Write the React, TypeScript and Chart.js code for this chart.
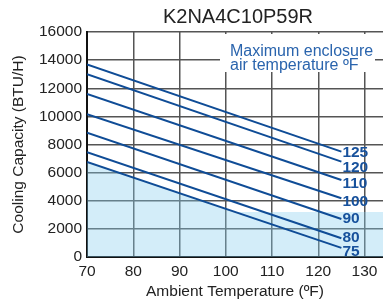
import React, { useEffect, useRef } from 'react';
import { Chart, registerables } from 'chart.js';

Chart.register(...registerables);

const chartTitle = 'K2NA4C10P59R';
const xAxisTitle = 'Ambient Temperature (ºF)';
const yAxisTitle = 'Cooling Capacity (BTU/H)';
const noteLines = ['Maximum enclosure', 'air temperature ºF'];

const seriesLabels = ['125', '120', '110', '100', '90', '80', '75'];
const lineX = [70, 125];
const startValues = [13700, 13000, 11600, 10150, 8840, 7445, 6760];
const endValues = [7490, 6780, 5480, 4180, 2700, 1330, 650];

const shadeX = [70, 102, 134];
const shadeY = [6760, 3200, 3200];

const xTickValues = [70, 80, 90, 100, 110, 120, 130];
const yTickValues = [0, 2000, 4000, 6000, 8000, 10000, 12000, 14000, 16000];

// vertical nudges (px) of the end labels so they don't collide
const labelNudge = [0, 5, 3, 2.5, -1, -1.5, 3];

const FONT = "'Liberation Sans', Arial, Helvetica, sans-serif";
const LINE_COLOR = '#0f4c96';
const LABEL_COLOR = '#17519c';
const NOTE_COLOR = '#2a64ad';

export default function App() {
  const ref = useRef<HTMLCanvasElement | null>(null);

  useEffect(() => {
    if (!ref.current) return;

    const lineSets = seriesLabels.map((lab, i) => ({
      label: lab,
      data: [
        { x: lineX[0], y: startValues[i] },
        { x: lineX[1], y: endValues[i] },
      ],
      borderColor: LINE_COLOR,
      borderWidth: 2,
      pointRadius: 0,
      fill: false,
    }));

    const shadeSet = {
      label: 'shade',
      data: shadeX.map((x, i) => ({ x, y: shadeY[i] })),
      borderWidth: 0,
      borderColor: 'rgba(0,0,0,0)',
      backgroundColor: 'rgba(132,204,238,0.36)',
      pointRadius: 0,
      fill: 'origin',
    };

    const labelPlugin = {
      id: 'endLabels',
      afterDatasetsDraw(chart: any) {
        const ctx = chart.ctx;
        ctx.save();
        ctx.font = `bold 15.5px ${FONT}`;
        ctx.fillStyle = LABEL_COLOR;
        ctx.textAlign = 'left';
        ctx.textBaseline = 'middle';
        seriesLabels.forEach((lab, i) => {
          const meta = chart.getDatasetMeta(i);
          const pt = meta.data[1];
          ctx.fillText(lab, pt.x + 1, pt.y + 1 + labelNudge[i]);
        });
        ctx.restore();
      },
      afterDraw(chart: any) {
        const ctx = chart.ctx;
        const area = chart.chartArea;
        ctx.save();
        ctx.fillStyle = '#ffffff';
        ctx.fillRect(area.left + 133, area.top + 2, 155, 38);
        ctx.font = `16px ${FONT}`;
        ctx.fillStyle = NOTE_COLOR;
        ctx.textAlign = 'left';
        ctx.textBaseline = 'alphabetic';
        ctx.fillText(noteLines[0], area.left + 143, area.top + 24);
        ctx.fillText(noteLines[1], area.left + 143, area.top + 37.5);
        ctx.font = `20px ${FONT}`;
        ctx.fillStyle = '#222';
        ctx.textAlign = 'center';
        ctx.textBaseline = 'middle';
        ctx.fillText(chartTitle, (area.left + area.right) / 2 + 3, 17.5);
        ctx.restore();
      },
    };

    const chart = new Chart(ref.current, {
      type: 'line',
      data: { datasets: [...lineSets, shadeSet] as any },
      options: {
        animation: false,
        responsive: false,
        maintainAspectRatio: false,
        layout: { padding: { top: 32, left: 0, right: 0, bottom: 0 } },
        plugins: {
          legend: { display: false },
          tooltip: { enabled: false },
          title: { display: false },
        },
        scales: {
          x: {
            type: 'linear',
            min: 70,
            max: 134,
            afterBuildTicks: (scale: any) => {
              scale.ticks = xTickValues.map((v) => ({ value: v }));
            },
            afterFit: (scale: any) => {
              scale.height = 47;
            },
            grid: { color: '#555', lineWidth: 1.5, drawTicks: false },
            border: { color: '#111', width: 2 },
            ticks: {
              padding: 5,
              color: '#222',
              font: { family: FONT, size: 15.5 },
              maxRotation: 0,
              autoSkip: false,
              callback: (v: any) => String(v),
            },
            title: {
              display: true,
              text: xAxisTitle,
              color: '#222',
              font: { family: FONT, size: 15.5 },
              padding: { top: 0, bottom: 3 },
            },
          },
          y: {
            type: 'linear',
            min: 0,
            max: 16000,
            afterBuildTicks: (scale: any) => {
              scale.ticks = yTickValues.map((v) => ({ value: v }));
            },
            afterFit: (scale: any) => {
              scale.width = 87;
            },
            grid: { color: '#555', lineWidth: 1.5, drawTicks: false },
            border: { color: '#111', width: 2 },
            ticks: {
              padding: 5,
              color: '#222',
              font: { family: FONT, size: 15.5 },
              autoSkip: false,
              callback: (v: any) => String(v),
            },
            title: {
              display: true,
              text: yAxisTitle,
              color: '#222',
              font: { family: FONT, size: 15.5 },
              padding: { top: 9, bottom: 0 },
            },
          },
        },
      },
      plugins: [labelPlugin],
    });

    return () => chart.destroy();
  }, []);

  return (
    <div style={{ position: 'fixed', left: 0, top: 0, width: 383, height: 304, background: '#fff' }}>
      <canvas ref={ref} width={383} height={304} style={{ width: 383, height: 304, display: 'block' }} />
    </div>
  );
}
